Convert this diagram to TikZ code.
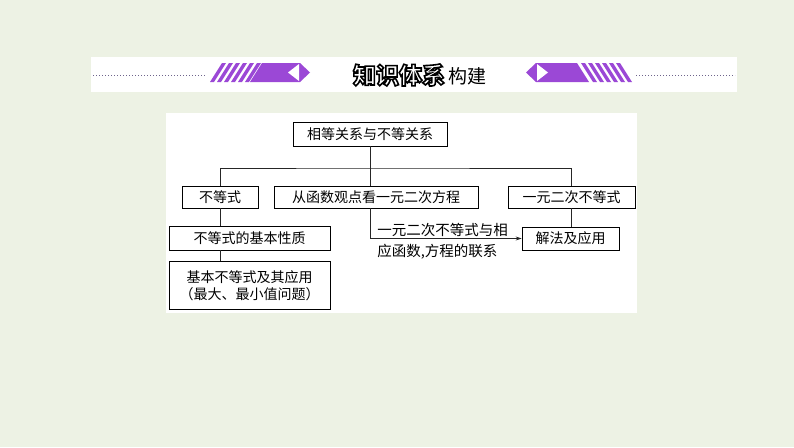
\documentclass[tikz,border=0pt]{standalone}
\usepackage{fontspec}
\setmainfont{Liberation Serif}
\newfontfamily\cjk{Noto Sans CJK SC}
\usepackage{tikz}
\usetikzlibrary{positioning, arrows.meta}

\definecolor{bg}{RGB}{237,242,228}
\definecolor{vio}{RGB}{155,72,214}
\definecolor{dotc}{RGB}{110,100,140}

\tikzset{
    box/.style={draw, line width=0.8pt, fill=white, inner sep=0pt, minimum height=22pt,
        font=\cjk\fontsize{14}{17}\selectfont},
    link/.style={line width=0.7pt, draw=black!85},
    note/.style={inner sep=1pt, font=\cjk\fontsize{14.5}{16}\selectfont}
}

\begin{document}
\begin{tikzpicture}[x=1pt, y=-1pt]
        \fill[bg] (0,0) rectangle (794,447);
        \useasboundingbox (0,0) rectangle (794,447);

        % title bar
        \fill[white] (91,57) rectangle (737,92);
        \draw[dotc, dotted, line width=1pt] (93,75) -- (206,75);
        \draw[dotc, dotted, line width=1pt] (636,75) -- (735,75);
        \foreach \s in {0,...,5} {
            \fill[vio] (210+7*\s,82) -- ++(4,0) -- ++(12,-19) -- ++(-4,0) -- cycle;
            \fill[vio] (581+7*\s,63) -- ++(4,0) -- ++(12,19) -- ++(-4,0) -- cycle;
        }
        \fill[vio] (250,82) -- (262,63) -- (300,63) -- (310,72.5) -- (300,82) -- cycle;
        \fill[white] (299,64) -- (288,72.5) -- (299,81) -- cycle;
        \fill[vio] (526,72.5) -- (536,63) -- (577,63) -- (589,82) -- (536,82) -- cycle;
        \fill[white] (537,64) -- (548,72.5) -- (537,81) -- cycle;
        \node (title) at (420,75) {\cjk\bfseries\fontsize{23}{25}\selectfont
            {\color{white}\special{pdf:code 2 Tr 1.6 w 0 G}知识体系\special{pdf:code 0 Tr}}%
            \,{\mdseries\fontsize{19}{21}\selectfont 构建}};

        % panel
        \fill[white] (166,113) rectangle (637,313);

        \node[box, minimum width=154pt, minimum height=24pt] (rel) at (370,134) {相等关系与不等关系};
        \coordinate (bus) at (370,168);

        \node[box, minimum width=76pt] (ineq) at (220,197) {不等式};
        \node[box, minimum width=204pt] (func) at (376,197) {从函数观点看一元二次方程};
        \node[box, minimum width=127pt] (quad) at (571.5,197) {一元二次不等式};

        \node[box, minimum width=161pt, minimum height=24pt] (prop) at (249.5,238) {不等式的基本性质};
        \node[box, minimum width=161pt, minimum height=48pt, align=center, below=11pt of prop] (basic)
            {基本不等式及其应用\\（最大、最小值问题）};
        \node[box, minimum width=97pt, minimum height=23pt] (solve) at (570.5,238.5) {解法及应用};

        \draw[link] (rel.south) -- (rel.south |- func.north);
        \draw[link] (ineq.north) |- (bus) -| (quad.north);
        \draw[link] (ineq.south) -- (ineq.south |- prop.north);
        \draw[link] (ineq.south |- prop.south) -- (ineq.south |- basic.north);
        \draw[link] (quad.south) -- (quad.south |- solve.north);
        \draw[link, -{Stealth[length=6pt, width=4pt]}] (rel.south |- func.south) |- (solve.west)
            node[note, pos=0.52, anchor=south west] {一元二次不等式与相}
            node[note, pos=0.52, anchor=north west, yshift=-4pt] {应函数,方程的联系};
    \end{tikzpicture}
\end{document}
